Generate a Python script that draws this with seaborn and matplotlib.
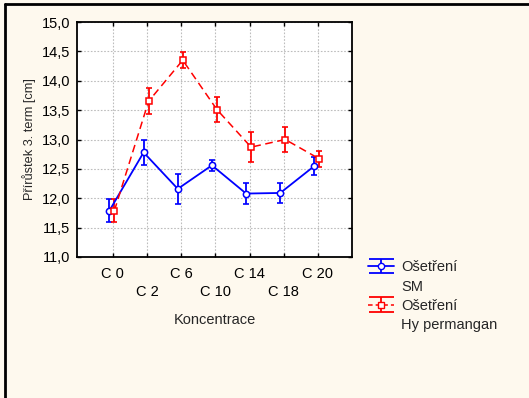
import numpy as np
import matplotlib
matplotlib.use("Agg")
import matplotlib.pyplot as plt
from matplotlib.lines import Line2D
from matplotlib.ticker import FuncFormatter, MultipleLocator
import seaborn as sns

# ---- data ----
categories = ["C 0", "C 2", "C 6", "C 10", "C 14", "C 18", "C 20"]
sm_mean = [11.79, 12.78, 12.16, 12.56, 12.08, 12.09, 12.55]
sm_err = [0.20, 0.21, 0.26, 0.09, 0.18, 0.17, 0.15]
hp_mean = [11.79, 13.65, 14.35, 13.51, 12.87, 13.00, 12.67]
hp_err = [0.20, 0.22, 0.14, 0.21, 0.26, 0.21, 0.14]
series_labels = ["Ošetření", "SM", "Ošetření", "Hy permangan"]
x_label = "Koncentrace"
y_label = "Přírůstek 3. term [cm]"

sns.set_theme(style="ticks")
plt.rcParams["font.family"] = ["Liberation Sans", "DejaVu Sans"]

BG = "#FEF9EE"
BLUE = "#0000FF"
RED = "#FF0000"

fig = plt.figure(figsize=(5.29, 3.98), dpi=100, facecolor=BG)
ax = fig.add_axes([77 / 529, 1 - 257 / 398, 275 / 529, 235 / 398])
ax.set_facecolor("white")

idx = np.arange(len(categories))
x_sm = idx - 0.10
x_hp = idx + 0.045

sns.lineplot(x=x_sm, y=sm_mean, ax=ax, color=BLUE, lw=1.3, marker="o",
             markersize=4.5, markerfacecolor="white", markeredgecolor=BLUE,
             markeredgewidth=1.1, legend=False, zorder=4, sort=False)
ax.errorbar(x_sm, sm_mean, yerr=sm_err, fmt="none", ecolor=BLUE,
            elinewidth=1.3, capsize=2.2, capthick=1.2, zorder=3)

sns.lineplot(x=x_hp, y=hp_mean, ax=ax, color=RED, lw=1.1, marker="s",
             markersize=5, markerfacecolor="white", markeredgecolor=RED,
             markeredgewidth=1.1, legend=False, zorder=4, sort=False,
             linestyle=(0, (5, 3)))
ax.errorbar(x_hp, hp_mean, yerr=hp_err, fmt="none", ecolor=RED,
            elinewidth=1.3, capsize=2.2, capthick=1.2, zorder=3)

ax.set_xlim(-1.05, 7.0)
ax.set_ylim(11.0, 15.0)
ax.yaxis.set_major_locator(MultipleLocator(0.5))
ax.yaxis.set_major_formatter(FuncFormatter(lambda v, p: f"{v:.1f}".replace(".", ",")))
ax.set_xticks(idx)
ax.set_xticklabels([c if i % 2 == 0 else "\n" + c for i, c in enumerate(categories)],
                   linespacing=1.3)

ax.grid(True, color="#BDBDBD", linestyle=(0, (1.5, 1.5)), lw=0.8)
ax.set_axisbelow(True)
for s in ax.spines.values():
    s.set_color("black")
    s.set_linewidth(1.3)
    s.set_visible(True)
ax.tick_params(axis="both", which="both", direction="in", length=3, width=1,
               colors="black", labelsize=10.5, top=True, right=True, pad=5)
ax.tick_params(axis="x", pad=7.5)

ax.set_xlabel(x_label, fontsize=10.5, labelpad=10)
ax.set_ylabel(y_label, fontsize=9.2, labelpad=4)

# legend proxies
eb1 = ax.errorbar([np.nan], [np.nan], yerr=[np.nan], color=BLUE, lw=1.3,
                  marker="o", markersize=4.5, mfc="white", mec=BLUE,
                  capsize=9, capthick=1.3, elinewidth=1.3)
eb2 = ax.errorbar([np.nan], [np.nan], yerr=[np.nan], color=RED, lw=1.1,
                  marker="s", markersize=5, mfc="white", mec=RED,
                  capsize=9, capthick=1.3, elinewidth=1.3, linestyle=(0, (3, 2)))
blank = Line2D([], [], color="none")
fig.legend([eb1, blank, eb2, blank], series_labels, loc="upper left",
           bbox_to_anchor=(361 / 529, 1 - 253 / 398), frameon=False,
           borderpad=0, handlelength=1.75, handletextpad=0.5,
           labelspacing=0.36, fontsize=10.5)

# outer frame fragments
fig.add_artist(Line2D([5 / 529, 1], [1 - 4 / 398] * 2, color="black", lw=2,
                      transform=fig.transFigure))
fig.add_artist(Line2D([5 / 529] * 2, [0, 1 - 4 / 398], color="black", lw=2,
                      transform=fig.transFigure))

fig.savefig("out.png", dpi=100, facecolor=BG)
